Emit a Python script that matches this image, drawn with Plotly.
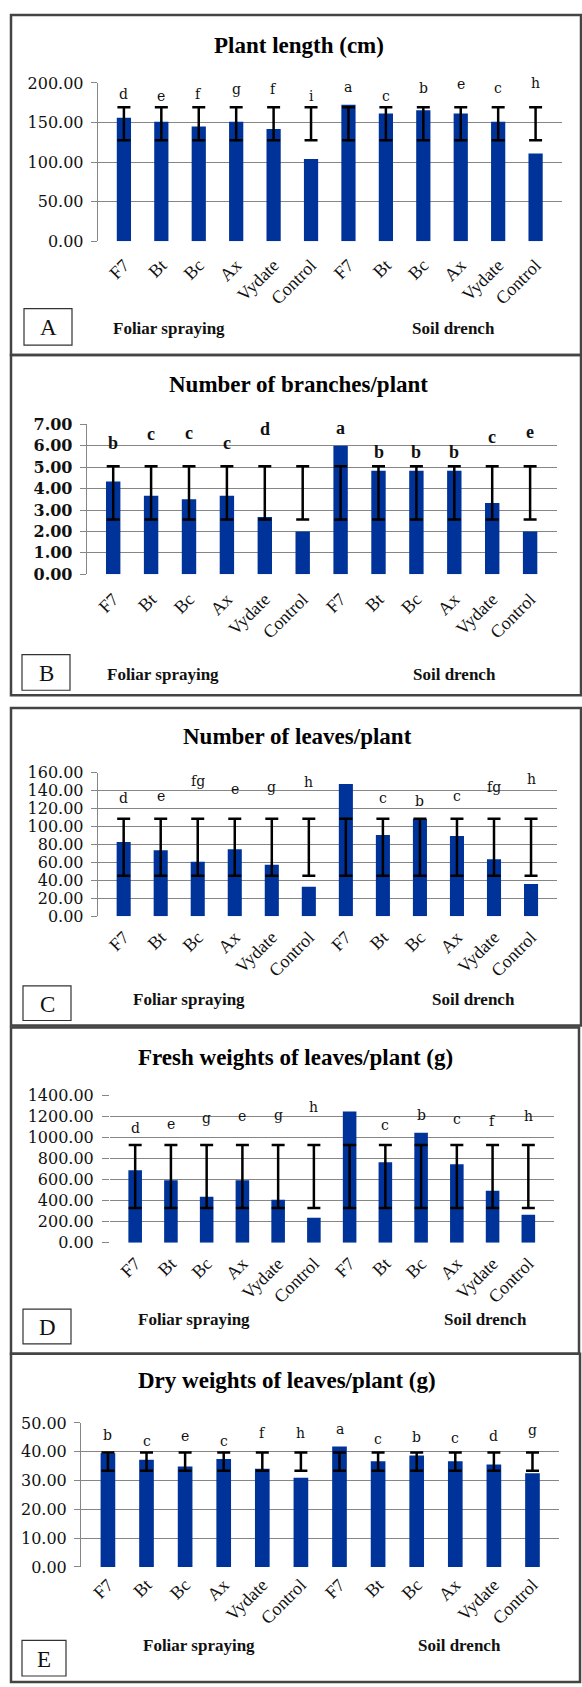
import plotly.graph_objects as go

W, H = 582, 1687

# ---------------- data ----------------
treatments = ["F7", "Bt", "Bc", "Ax", "Vydate", "Control"]
groups = ["Foliar spraying", "Soil drench"]

titles = [
    "Plant length (cm)",
    "Number of branches/plant",
    "Number of leaves/plant",
    "Fresh weights of leaves/plant (g)",
    "Dry weights of leaves/plant (g)",
]
panel_tags = ["A", "B", "C", "D", "E"]

plant_length = [156.0, 151.0, 145.0, 151.0, 142.0, 104.0, 172.5, 161.5, 165.5, 161.5, 151.0, 111.0]
plant_length_letters = ["d", "e", "f", "g", "f", "i", "a", "c", "b", "e", "c", "h"]
plant_length_letter_y = [186, 183, 186, 192, 192, 183, 194.5, 183, 193, 199, 193, 200]
plant_length_sd_mean = 148.5
plant_length_sd = 20.7

branches = [4.33, 3.67, 3.50, 3.67, 2.67, 2.00, 6.00, 4.83, 4.83, 4.83, 3.33, 2.00]
branches_letters = ["b", "c", "c", "c", "d", "e", "a", "b", "b", "b", "c", "e"]
branches_letter_y = [6.12, 6.54, 6.58, 6.15, 6.77, 7.2, 6.85, 5.71, 5.71, 5.71, 6.43, 6.66]
branches_sd_mean = 3.80
branches_sd = 1.24

leaves = [82.8, 73.6, 60.7, 74.7, 57.4, 33.1, 147.5, 90.5, 108.5, 89.4, 63.6, 36.0]
leaves_letters = ["d", "e", "fg", "e", "g", "h", "a", "c", "b", "c", "fg", "h"]
leaves_letter_y = [131.7, 134.3, 151.2, 141.6, 143.8, 150, 164, 131.7, 128, 133.5, 143.8, 152.6]
leaves_sd_mean = 77.0
leaves_sd = 31.8

fresh_weight = [687.6, 591.0, 435.6, 591.0, 407.6, 236.4, 1244.0, 762.0, 1042.0, 743.6, 491.6, 264.4]
fresh_weight_letters = ["d", "e", "g", "e", "g", "h", "a", "c", "b", "c", "f", "h"]
fresh_weight_letter_y = [1089, 1123, 1185, 1198, 1207, 1291, 1409, 1120, 1207, 1170, 1151, 1201]
fresh_weight_sd_mean = 628.0
fresh_weight_sd = 299.0

dry_weight = [39.5, 37.2, 34.9, 37.5, 34.1, 31.0, 41.8, 36.7, 38.7, 36.7, 35.6, 32.5]
dry_weight_letters = ["b", "c", "e", "c", "f", "h", "a", "c", "b", "c", "d", "g"]
dry_weight_letter_y = [45.8, 43.8, 45.4, 43.8, 46.6, 46.6, 47.8, 44.3, 45.0, 44.9, 45.4, 47.5]
dry_weight_sd_mean = 36.55
dry_weight_sd = 3.15

y_max = [200, 7, 160, 1400, 50]
y_step = [50, 1, 20, 200, 10]

series = [plant_length, branches, leaves, fresh_weight, dry_weight]
letters = [plant_length_letters, branches_letters, leaves_letters, fresh_weight_letters, dry_weight_letters]
letter_y = [plant_length_letter_y, branches_letter_y, leaves_letter_y, fresh_weight_letter_y, dry_weight_letter_y]
sd_mean = [plant_length_sd_mean, branches_sd_mean, leaves_sd_mean, fresh_weight_sd_mean, dry_weight_sd_mean]
sd_half = [plant_length_sd, branches_sd, leaves_sd, fresh_weight_sd, dry_weight_sd]

keys = [f"{g}|{t}" for g in groups for t in treatments]
tick_text = [t for g in groups for t in treatments]

# ---------------- layout (pixels) ----------------
frames = [(11, 6, 581, 350), (11, 350, 581, 694), (11, 707, 581, 1028),
          (11, 1030, 579, 1360), (11, 1360, 580, 1692)]
plots = [(97.7, 74.7, 561.8, 235.0), (86.7, 420.0, 556.6, 571.7), (97.7, 772.3, 557.0, 917.7),
         (110.0, 1098.3, 553.5, 1247.7), (81.0, 1430.0, 559.4, 1575.7)]
title_pos = [(299, 37), (298, 380), (297, 736), (295, 1060), (287, 1387)]
tag_box = [(24, 303, 72, 340), (22, 653, 70, 689), (23, 988, 71, 1023),
           (23, 1315, 71, 1350), (22, 1650, 66, 1686)]
group_pos = [((169, 323), (453, 323)), ((163, 673), (454, 673)), ((189, 1002), (473, 1002)),
             ((194, 1325), (485, 1325)), ((199, 1655), (459, 1655))]
xlabel_standoff = [9, 10, 6, 6, 3]
show_yline = [True, True, True, False, True]
bold_panel = [False, True, False, False, False]

SERIF = "Liberation Serif, Times New Roman, serif"
WIDE_SERIF = "DejaVu Serif, serif"
BAR = "#003399"
GRID = "#868686"

def px(x):
    return x / W

def py(y):
    return 1 - y / H

fig = go.Figure()
shapes = []
annotations = []

for i in range(5):
    n = i + 1
    xa = "x" if n == 1 else f"x{n}"
    ya = "y" if n == 1 else f"y{n}"
    fig.add_trace(go.Bar(x=keys, y=series[i], marker=dict(color=BAR, line=dict(width=0)),
                         xaxis=xa, yaxis=ya, showlegend=False, hoverinfo="skip"))
    fig.add_trace(go.Scatter(x=keys, y=[sd_mean[i]] * len(keys), mode="markers",
                             marker=dict(size=1, opacity=0),
                             error_y=dict(type="constant", value=sd_half[i], color="black",
                                          thickness=2.5, width=6.5),
                             xaxis=xa, yaxis=ya, showlegend=False, hoverinfo="skip"))
    l, t, r, b = plots[i]
    tickfont_y = dict(family=WIDE_SERIF, size=16, color="#111",
                      weight=700 if bold_panel[i] else 400)
    fig.layout[f"xaxis{'' if n == 1 else n}"] = dict(
        domain=[px(l), px(r)], anchor=ya, type="category",
        tickmode="array", tickvals=keys, ticktext=tick_text, tickangle=-45,
        tickfont=dict(family=SERIF, size=18, color="#111"),
        ticklabelstandoff=xlabel_standoff[i],
        showline=False, showgrid=False, ticks="", zeroline=False, fixedrange=True)
    fig.layout[f"yaxis{'' if n == 1 else n}"] = dict(
        domain=[py(b), py(t)], anchor=xa, range=[0, y_max[i] * 1.0005],
        tick0=0, dtick=y_step[i], tickformat=".2f",
        showgrid=True, gridcolor=GRID, gridwidth=1,
        ticks="outside", ticklen=6 if show_yline[i] else 7, tickcolor=GRID, tickwidth=1,
        showline=show_yline[i], linecolor=GRID, linewidth=1,
        zeroline=False, tickfont=tickfont_y, ticklabelstandoff=4 if show_yline[i] else 5,
        fixedrange=True)
    # frame
    fx0, fy0, fx1, fy1 = frames[i]
    shapes.append(dict(type="rect", xref="paper", yref="paper", x0=px(fx0), x1=px(fx1),
                       y0=py(fy1), y1=py(fy0), line=dict(color="#444", width=2.5)))
    # tag box
    bx0, by0, bx1, by1 = tag_box[i]
    shapes.append(dict(type="rect", xref="paper", yref="paper", x0=px(bx0), x1=px(bx1),
                       y0=py(by1), y1=py(by0), line=dict(color="#333", width=1.2)))
    annotations.append(dict(xref="paper", yref="paper", x=px((bx0 + bx1) / 2), y=py((by0 + by1) / 2 + 1),
                            text=panel_tags[i], showarrow=False, xanchor="center", yanchor="middle",
                            font=dict(family=SERIF, size=23, color="#111")))
    # title
    tx, ty = title_pos[i]
    annotations.append(dict(xref="paper", yref="paper", x=px(tx), y=py(ty), text=f"<b>{titles[i]}</b>",
                            showarrow=False, xanchor="center", yanchor="middle",
                            font=dict(family=SERIF, size=23, color="#000")))
    # group labels
    for g, (gx, gy) in zip(groups, group_pos[i]):
        annotations.append(dict(xref="paper", yref="paper", x=px(gx), y=py(gy), text=f"<b>{g}</b>",
                                showarrow=False, xanchor="center", yanchor="middle",
                                font=dict(family=SERIF, size=17, color="#111")))
    # significance letters
    for k, lt, lyv in zip(keys, letters[i], letter_y[i]):
        txt = f"<b>{lt}</b>" if bold_panel[i] else lt
        annotations.append(dict(xref=xa, yref=ya, x=k, y=lyv, text=txt, showarrow=False,
                                xanchor="center", yanchor="middle",
                                font=dict(family=SERIF if bold_panel[i] else WIDE_SERIF,
                                          size=18 if bold_panel[i] else 14, color="#111")))

fig.update_layout(
    width=W, height=H, margin=dict(l=0, r=0, t=0, b=0),
    paper_bgcolor="white", plot_bgcolor="white",
    bargap=0.62, shapes=shapes, annotations=annotations, showlegend=False,
)

fig.write_html("out.html", config={"displayModeBar": False})
